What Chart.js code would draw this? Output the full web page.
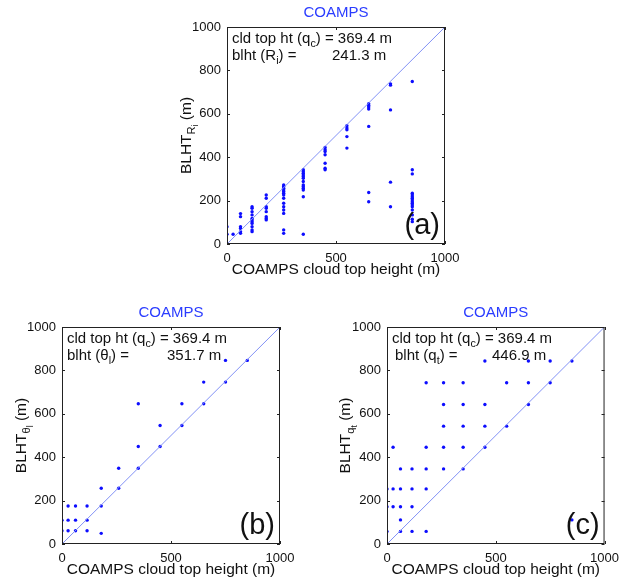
<!DOCTYPE html>
<html>
<head>
<meta charset="utf-8">
<script src="https://cdn.jsdelivr.net/npm/chart.js@4.4.0/dist/chart.umd.min.js"></script>
<style>
  body { margin: 0; background: #fff; }
  #wrap { position: relative; width: 626px; height: 580px; }
  canvas { position: absolute; }
</style>
</head>
<body>
<div id="wrap">
  <canvas id="pa" width="330" height="290" style="left:140px;top:0px"></canvas>
  <canvas id="pb" width="310" height="285" style="left:0px;top:295px"></canvas>
  <canvas id="pc" width="313" height="285" style="left:313px;top:295px"></canvas>
</div>
<script>
// COAMPS cloud top levels (x) and the BLHT values found at each level (y)
const cloudTopLevels = [0, 28, 62, 115, 180, 260, 350, 450, 550, 650, 750, 850];

const blhtRi = [
  [80, 45],
  [45],
  [140, 126, 80, 72, 57, 49],
  [172, 165, 149, 134, 118, 111, 103, 95, 80, 65, 57],
  [226, 211, 172, 165, 149, 126, 118, 111],
  [272, 265, 257, 249, 242, 234, 226, 211, 188, 172, 157, 141, 65, 49],
  [342, 334, 326, 318, 311, 303, 288, 272, 265, 257, 249, 218, 45],
  [445, 434, 426, 411, 372, 349, 342],
  [545, 534, 526, 495, 442],
  [646, 638, 631, 622, 542, 237, 195],
  [738, 732, 618, 285, 172],
  [749, 342, 323, 234, 226, 218, 211, 203, 195, 188, 180, 172, 157, 134, 114, 103]
];

const blhtTheta = [
  [110, 61],
  [175, 110, 61],
  [175, 110, 61],
  [175, 110, 61],
  [257, 175, 49],
  [349, 257],
  [646, 449, 349],
  [546, 449],
  [646, 546],
  [746, 646],
  [846, 746],
  [846]
];

const blhtQt = [
  [254, 172, 58],
  [446, 254, 172],
  [346, 254, 172, 111, 58],
  [346, 254, 172, 58],
  [743, 446, 346, 254, 58],
  [743, 643, 543, 446, 346],
  [743, 643, 543, 446, 346],
  [843, 643, 543, 446],
  [743, 543],
  [843, 743, 643],
  [843, 743],
  [843, 111]
];

const xTicks = [0, 500, 1000];
const yTicks = [0, 200, 400, 600, 800, 1000];
const oneToOne = [0, 1000];
const cldTopMean = '369.4 m';
const blhtMeans = ['241.3 m', '351.7 m', '446.9 m'];
const panelTags = ['(a)', '(b)', '(c)'];

const FONT = "'Liberation Sans', Arial, sans-serif";

// draw text with sub / sub-sub scripts, parts = [[text, level], ...]
function richWidth(ctx, parts, size) {
  let w = 0;
  parts.forEach(([t, lv]) => {
    ctx.font = (lv === 0 ? size : lv === 1 ? size * 0.72 : size * 0.56) + 'px ' + FONT;
    w += ctx.measureText(t).width;
  });
  return w;
}
function drawRich(ctx, parts, x, y, size) {
  parts.forEach(([t, lv]) => {
    const s = lv === 0 ? size : lv === 1 ? size * 0.72 : size * 0.56;
    const dy = lv === 0 ? 0 : lv === 1 ? size * 0.28 : size * 0.48;
    ctx.font = s + 'px ' + FONT;
    ctx.fillText(t, x, y + dy);
    x += ctx.measureText(t).width;
  });
}

const framePlugin = {
  id: 'frame',
  afterDatasetsDraw(chart, args, o) {
    const { ctx, chartArea: a, scales: { x, y } } = chart;
    ctx.save();
    ctx.strokeStyle = '#222';
    ctx.lineWidth = 1;
    ctx.strokeRect(a.left + 0.5, a.top + 0.5, a.right - a.left - 1, a.bottom - a.top - 1);
    // matlab style inward ticks on all four sides
    ctx.beginPath();
    xTicks.forEach(v => {
      const px = Math.round(x.getPixelForValue(v)) + 0.5;
      ctx.moveTo(px, a.bottom); ctx.lineTo(px, a.bottom - 3);
      ctx.moveTo(px, a.top); ctx.lineTo(px, a.top + 3);
    });
    yTicks.forEach(v => {
      const py = Math.round(y.getPixelForValue(v)) + 0.5;
      ctx.moveTo(a.left, py); ctx.lineTo(a.left + 3, py);
      ctx.moveTo(a.right, py); ctx.lineTo(a.right - 3, py);
    });
    ctx.stroke();

    ctx.fillStyle = '#111';
    ctx.textAlign = 'left';
    ctx.textBaseline = 'alphabetic';
    drawRich(ctx, [['cld top ht (q', 0], ['c', 1], [') = ' + cldTopMean, 0]], a.left + 5, a.top + 16, 15);
    drawRich(ctx, [['blht (', 0], [o.sym, 0], [o.sub, 1], [') =', 0]], a.left + o.indent, a.top + 33, 15);
    ctx.font = '15px ' + FONT;
    ctx.fillText(o.mean, a.left + 105, a.top + 33);

    ctx.font = '29px ' + FONT;
    ctx.textAlign = 'right';
    ctx.fillText(o.tag, a.right - 5, a.bottom - 10);

    // title
    ctx.textAlign = 'center';
    ctx.textBaseline = 'middle';
    ctx.fillStyle = '#2a3cff';
    ctx.font = '15px ' + FONT;
    ctx.fillText('COAMPS', (a.left + a.right) / 2, a.top - 14);

    // x axis label
    ctx.fillStyle = '#111';
    ctx.font = '15.5px ' + FONT;
    ctx.fillText('COAMPS cloud top height (m)', (a.left + a.right) / 2, a.bottom + 26);

    // y axis label, rotated
    const yl = [['BLHT', 0], [o.sym, 1], [o.sub, 2], [' (m)', 0]];
    const w = richWidth(ctx, yl, 15.5);
    ctx.translate(a.left - o.ylabGap, (a.top + a.bottom) / 2);
    ctx.rotate(-Math.PI / 2);
    ctx.textAlign = 'left';
    ctx.textBaseline = 'alphabetic';
    drawRich(ctx, yl, -w / 2, 0, 15.5);
    ctx.restore();
  }
};

function makePanel(id, blht, opts) {
  const pts = cloudTopLevels.flatMap((cx, i) => blht[i].map(v => ({ x: cx, y: v })));
  new Chart(document.getElementById(id), {
    type: 'scatter',
    data: {
      datasets: [
        {
          type: 'line',
          data: oneToOne.map(v => ({ x: v, y: v })),
          borderColor: 'rgb(130,145,245)',
          borderWidth: 1,
          pointRadius: 0
        },
        {
          data: pts,
          pointRadius: 1.7,
          pointStyle: 'circle',
          backgroundColor: '#0d0dff',
          borderWidth: 0
        }
      ]
    },
    options: {
      responsive: false,
      animation: false,
      layout: { padding: { left: 0, top: opts.padTop, right: opts.padRight, bottom: 0 } },
      plugins: {
        legend: { display: false },
        tooltip: { enabled: false },
        frame: opts
      },
      scales: {
        x: {
          type: 'linear', min: 0, max: 1000,
          afterBuildTicks: s => { s.ticks = xTicks.map(v => ({ value: v })); },
          afterFit: s => { s.height = opts.hx; },
          ticks: { font: { size: 13, family: FONT }, color: '#111', padding: 7, maxRotation: 0, callback: v => String(v) },
          grid: { display: false, drawTicks: false },
          border: { display: false }
        },
        y: {
          type: 'linear', min: 0, max: 1000,
          afterBuildTicks: s => { s.ticks = yTicks.map(v => ({ value: v })); },
          afterFit: s => { s.width = opts.wy; },
          ticks: { font: { size: 13, family: FONT }, color: '#111', padding: 6, callback: v => String(v) },
          grid: { display: false, drawTicks: false },
          border: { display: false }
        }
      }
    },
    plugins: [framePlugin]
  });
}

makePanel('pa', blhtRi, { wy: 87, padTop: 27, padRight: 25, hx: 46, sym: 'R', sub: 'i', indent: 5, mean: blhtMeans[0], tag: panelTags[0], ylabGap: 36 });
makePanel('pb', blhtTheta, { wy: 62, padTop: 32, padRight: 30, hx: 36, sym: 'θ', sub: 'l', indent: 5, mean: blhtMeans[1], tag: panelTags[1], ylabGap: 36 });
makePanel('pc', blhtQt, { wy: 74, padTop: 32, padRight: 21, hx: 36, sym: 'q', sub: 't', indent: 8, mean: blhtMeans[2], tag: panelTags[2], ylabGap: 37 });
</script>
</body>
</html>
